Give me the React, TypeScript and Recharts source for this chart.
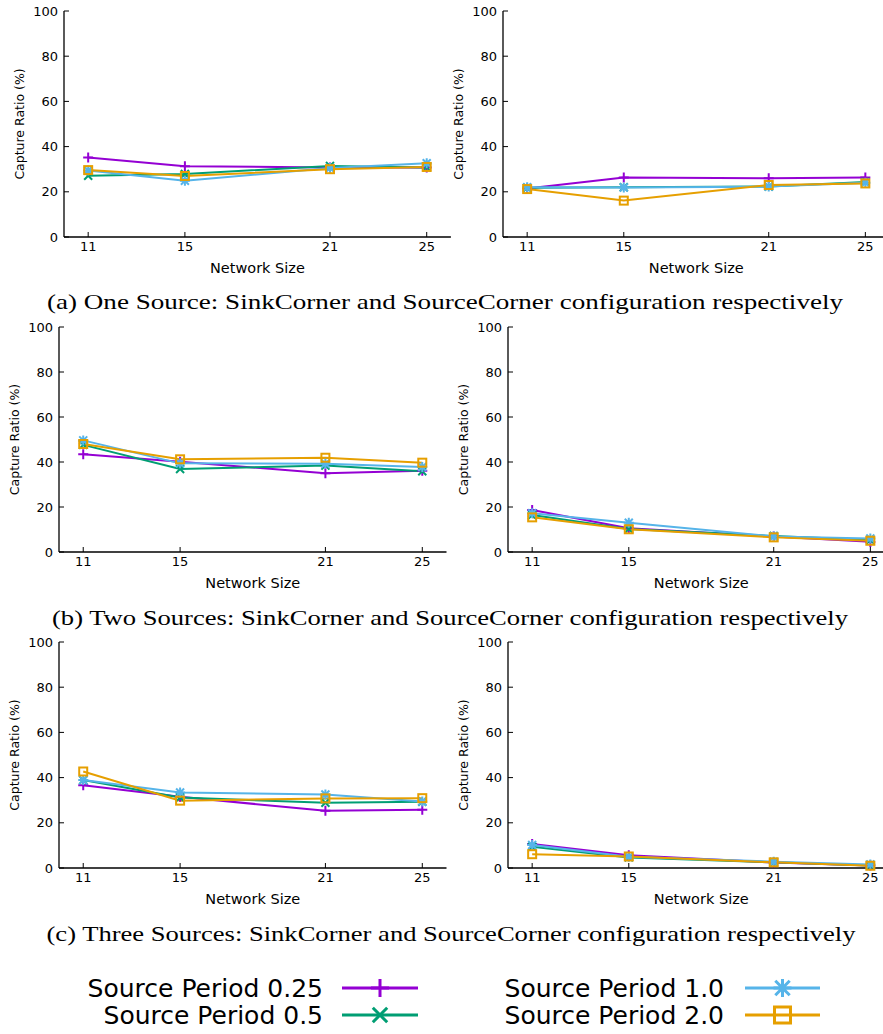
import React from "react";
import { LineChart, Line, XAxis, YAxis } from "recharts";

// network sizes on the x axis
const networkSizes = [11, 15, 21, 25];
const yTicks = [0, 20, 40, 60, 80, 100];

// capture ratio (%) per source period, per panel
const aLeft025 = [35.2, 31.3, 30.8, 30.8];
const aLeft05 = [27.1, 27.9, 31.4, 30.8];
const aLeft10 = [29.4, 24.9, 30.5, 32.6];
const aLeft20 = [29.6, 27.0, 30.0, 31.0];

const aRight025 = [21.5, 26.3, 26.0, 26.3];
const aRight05 = [21.8, 22.0, 22.3, 24.3];
const aRight10 = [22.0, 21.9, 22.3, 24.0];
const aRight20 = [21.2, 16.1, 23.0, 23.7];

const bLeft025 = [43.4, 40.1, 35.0, 36.1];
const bLeft05 = [47.6, 36.9, 38.4, 35.9];
const bLeft10 = [49.6, 39.4, 39.2, 37.8];
const bLeft20 = [48.0, 41.2, 41.9, 39.7];

const bRight025 = [18.7, 10.6, 6.9, 4.5];
const bRight05 = [16.4, 10.2, 7.1, 5.3];
const bRight10 = [17.2, 13.0, 6.9, 6.0];
const bRight20 = [15.4, 10.1, 6.5, 5.0];

const cLeft025 = [36.6, 31.5, 25.3, 25.8];
const cLeft05 = [38.9, 31.2, 28.9, 29.3];
const cLeft10 = [38.9, 33.4, 32.5, 29.4];
const cLeft20 = [42.7, 29.8, 30.8, 30.9];

const cRight025 = [10.6, 5.6, 2.4, 1.1];
const cRight05 = [9.4, 4.7, 2.5, 1.1];
const cRight10 = [10.2, 5.0, 2.8, 1.6];
const cRight20 = [6.1, 5.1, 2.5, 1.0];

const captions = [
  "(a) One Source: SinkCorner and SourceCorner configuration respectively",
  "(b) Two Sources: SinkCorner and SourceCorner configuration respectively",
  "(c) Three Sources: SinkCorner and SourceCorner configuration respectively",
];

const series = [
  { key: "p025", name: "Source Period 0.25", color: "#9400d3", marker: "plus" },
  { key: "p05", name: "Source Period 0.5", color: "#009e73", marker: "cross" },
  { key: "p10", name: "Source Period 1.0", color: "#56b4e9", marker: "star" },
  { key: "p20", name: "Source Period 2.0", color: "#e69f00", marker: "square" },
];

const buildRows = (p025: number[], p05: number[], p10: number[], p20: number[]) =>
  networkSizes.map((size, i) => ({ size, p025: p025[i], p05: p05[i], p10: p10[i], p20: p20[i] }));

// plot area boxes (left, right, top, bottom) in page pixels
const panels = [
  { rows: buildRows(aLeft025, aLeft05, aLeft10, aLeft20), box: [63.6, 450.5, 11, 237] },
  { rows: buildRows(aRight025, aRight05, aRight10, aRight20), box: [503, 889.5, 11, 237] },
  { rows: buildRows(bLeft025, bLeft05, bLeft10, bLeft20), box: [59, 446.5, 327, 552] },
  { rows: buildRows(bRight025, bRight05, bRight10, bRight20), box: [508, 894.5, 327, 552] },
  { rows: buildRows(cLeft025, cLeft05, cLeft10, cLeft20), box: [59, 446.5, 642, 868] },
  { rows: buildRows(cRight025, cRight05, cRight10, cRight20), box: [508, 894.5, 642, 868] },
];

const Marker = ({ cx, cy, color, type, s = 5, sw = 1.5 }: any) => {
  if (cx == null || cy == null) return null;
  const d = s * 0.8;
  const plus = `M${cx - s},${cy}L${cx + s},${cy}M${cx},${cy - s}L${cx},${cy + s}`;
  const cross = `M${cx - d},${cy - d}L${cx + d},${cy + d}M${cx - d},${cy + d}L${cx + d},${cy - d}`;
  if (type === "square")
    return <rect x={cx - s + 1} y={cy - s + 1} width={2 * s - 2} height={2 * s - 2} fill="none" stroke={color} strokeWidth={sw + 0.5} />;
  const path = type === "plus" ? plus : type === "cross" ? cross : plus + cross;
  return <path d={path} stroke={color} strokeWidth={sw + 0.5} fill="none" />;
};

const Panel = ({ rows, box }: any) => {
  const [pl, pr, pt, pb] = box;
  const yw = 60;
  const xh = 45;
  const top = 10;
  const right = 10;
  const width = pr - pl + yw + right;
  const height = pb - pt + top + xh;
  const tick = { fontSize: 13, fill: "#000", fontFamily: "DejaVu Sans" };
  const axisLine = { stroke: "#000", strokeWidth: 1.3 };
  return (
    <div style={{ position: "absolute", left: pl - yw, top: pt - top }}>
      <LineChart width={width} height={height} data={rows} margin={{ top, right, bottom: 0, left: 0 }}>
        <XAxis
          dataKey="size"
          type="number"
          domain={[10, 26]}
          ticks={networkSizes}
          height={xh}
          axisLine={axisLine}
          tickLine={{ stroke: "#000" }}
          tickSize={-5}
          tickMargin={10}
          tick={tick}
          label={{ value: "Network Size", position: "insideBottom", offset: 9, style: { fontSize: 14.5, fill: "#000", fontFamily: "DejaVu Sans" } }}
        />
        <XAxis
          xAxisId="top"
          orientation="top"
          dataKey="size"
          type="number"
          domain={[10, 26]}
          ticks={networkSizes}
          height={0}
          axisLine={axisLine}
          tickLine={{ stroke: "#000" }}
          tickSize={-5}
          tickFormatter={() => ""}
        />
        <YAxis
          type="number"
          domain={[0, 100]}
          ticks={yTicks}
          width={yw}
          axisLine={axisLine}
          tickLine={{ stroke: "#000" }}
          tickSize={-5}
          tickMargin={11}
          tick={tick}
          label={{
            value: "Capture Ratio (%)",
            angle: -90,
            position: "insideLeft",
            offset: 16,
            style: { textAnchor: "middle", fontSize: 12.5, fill: "#000", fontFamily: "DejaVu Sans" },
          }}
        />
        <YAxis
          yAxisId="right"
          orientation="right"
          type="number"
          domain={[0, 100]}
          ticks={yTicks}
          width={0}
          axisLine={axisLine}
          tickLine={{ stroke: "#000" }}
          tickSize={-5}
          tickFormatter={() => ""}
        />
        <Line xAxisId="top" yAxisId="right" dataKey="p025" stroke="none" dot={false} activeDot={false} isAnimationActive={false} />
        {series.map((s) => (
          <Line
            key={s.key}
            dataKey={s.key}
            stroke={s.color}
            strokeWidth={2}
            type="linear"
            isAnimationActive={false}
            dot={(p: any) => <Marker key={`${s.key}-${p.index}`} cx={p.cx} cy={p.cy} color={s.color} type={s.marker} />}
            activeDot={false}
          />
        ))}
      </LineChart>
    </div>
  );
};

const captionPos = [
  { x: 445, y: 309, w: 796 },
  { x: 450, y: 625, w: 796 },
  { x: 451, y: 941, w: 809 },
];

const legendPos = [
  { tx: 323, lx1: 342, lx2: 418, y: 988 },
  { tx: 323, lx1: 342, lx2: 418, y: 1015 },
  { tx: 724, lx1: 745, lx2: 820, y: 988 },
  { tx: 724, lx1: 745, lx2: 820, y: 1015 },
];

export default function App() {
  return (
    <div style={{ position: "absolute", left: 0, top: 0, width: 883, height: 1034, overflow: "hidden", background: "#fff" }}>
      {panels.map((p, i) => (
        <Panel key={i} rows={p.rows} box={p.box} />
      ))}
      <svg width={883} height={1034} style={{ position: "absolute", left: 0, top: 0, pointerEvents: "none" }}>
        {captions.map((c, i) => (
          <text
            key={c}
            x={captionPos[i].x}
            y={captionPos[i].y}
            textAnchor="middle"
            fontFamily="Liberation Serif"
            fontSize={21}
            textLength={captionPos[i].w}
            lengthAdjust="spacingAndGlyphs"
          >
            {c}
          </text>
        ))}
        {series.map((s, i) => {
          const lp = legendPos[i];
          return (
            <g key={s.key}>
              <text x={lp.tx} y={lp.y + 9} textAnchor="end" fontFamily="DejaVu Sans" fontSize={25}>
                {s.name}
              </text>
              <line x1={lp.lx1} x2={lp.lx2} y1={lp.y} y2={lp.y} stroke={s.color} strokeWidth={3} />
              <Marker cx={(lp.lx1 + lp.lx2) / 2} cy={lp.y} color={s.color} type={s.marker} s={9} sw={2.5} />
            </g>
          );
        })}
      </svg>
    </div>
  );
}
